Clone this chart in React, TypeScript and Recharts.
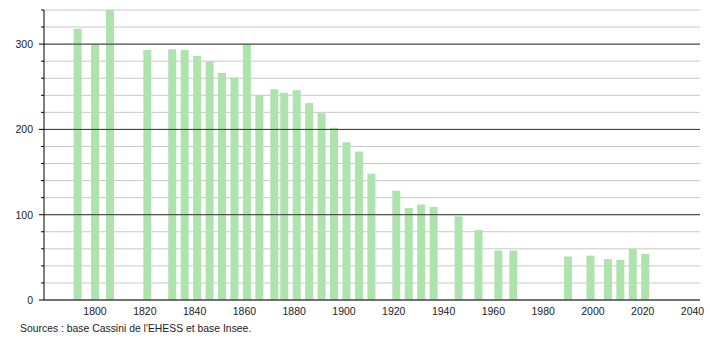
import { BarChart, Bar, XAxis, YAxis, CartesianGrid, ReferenceLine } from 'recharts'

if (typeof document !== 'undefined') document.body.style.margin = '0'

const years = [
  1793, 1800, 1806, 1821, 1831, 1836, 1841, 1846, 1851, 1856, 1861, 1866, 1872, 1876, 1881, 1886,
  1891, 1896, 1901, 1906, 1911, 1921, 1926, 1931, 1936, 1946, 1954, 1962, 1968, 1990, 1999, 2006,
  2011, 2016, 2021,
]
const population = [
  318, 300, 340, 293, 294, 293, 286, 280, 266, 261, 300, 240, 247, 243, 246, 231,
  219, 202, 185, 174, 148, 128, 108, 112, 109, 98, 82, 58, 58, 51, 52, 48,
  47, 60, 54,
]
const xTicks = [1800, 1820, 1840, 1860, 1880, 1900, 1920, 1940, 1960, 1980, 2000, 2020, 2040]
const yTicks = [0, 20, 40, 60, 80, 100, 120, 140, 160, 180, 200, 220, 240, 260, 280, 300, 320, 340]
const majorY = [100, 200, 300]

const data = years.map((year, i) => ({ year, pop: population[i] }))

const font = 'Liberation Sans, Arial, sans-serif'

function YTick(props: any) {
  const { y, payload } = props
  const v = payload.value
  const major = v % 100 === 0
  return (
    <g>
      <line x1={major ? 39 : 41} x2={44} y1={y} y2={y} stroke="#000" strokeWidth={1} />
      {major && (
        <text x={33} y={y} dy={4} textAnchor="end" fontSize={10.5} fill="#222" fontFamily={font}>
          {v}
        </text>
      )}
    </g>
  )
}

export default function App() {
  return (
    <div style={{ position: 'relative', width: 710, height: 340, background: '#fff' }}>
      <BarChart width={710} height={340} data={data} margin={{ top: 10, right: 10, left: 0, bottom: 20 }}>
        <CartesianGrid vertical={false} stroke="#c8c8c8" horizontalValues={yTicks} />
        {majorY.map((v) => (
          <ReferenceLine key={v} y={v} stroke="#333" strokeWidth={1} />
        ))}
        <XAxis
          dataKey="year"
          type="number"
          domain={[1779.5, 2043]}
          ticks={xTicks}
          tickLine={false}
          axisLine={{ stroke: '#000' }}
          height={20}
          tick={{ fontSize: 10.5, fill: '#222', fontFamily: font }}
          interval={0}
          allowDataOverflow
        />
        <YAxis
          type="number"
          domain={[0, 340]}
          ticks={yTicks}
          width={44}
          tickLine={false}
          axisLine={{ stroke: '#000' }}
          tick={<YTick />}
          interval={0}
        />
        <Bar dataKey="pop" fill="#aee3ae" barSize={8} isAnimationActive={false} />
      </BarChart>
      <div
        style={{
          position: 'absolute',
          left: 20,
          top: 323,
          fontSize: 10.4,
          fontFamily: font,
          color: '#222',
        }}
      >
        Sources : base Cassini de l'EHESS et base Insee.
      </div>
    </div>
  )
}
